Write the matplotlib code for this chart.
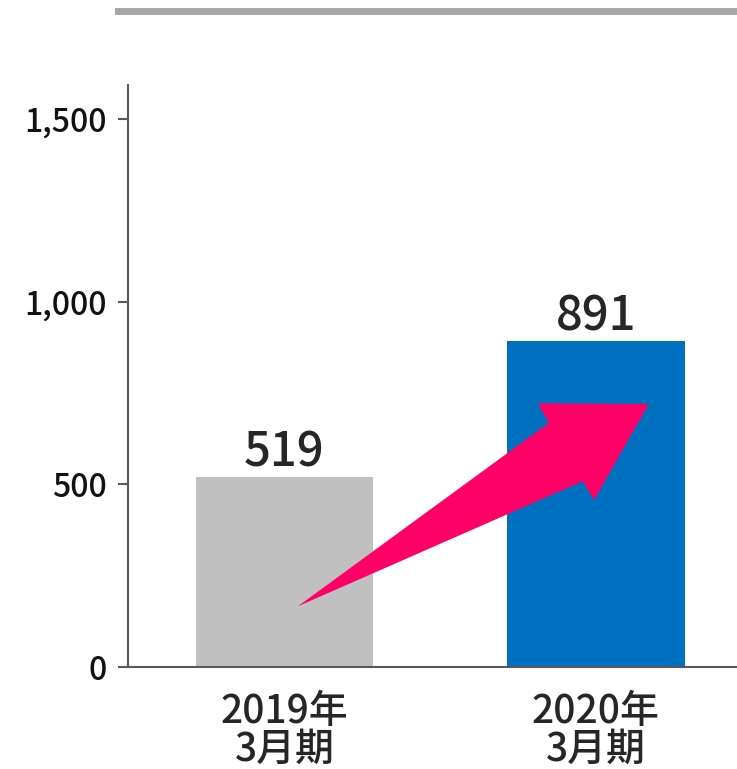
import matplotlib
matplotlib.use('Agg')
import matplotlib.pyplot as plt
from matplotlib.patches import Polygon
from matplotlib.lines import Line2D
import numpy as np

plt.rcParams['font.family'] = ['Noto Sans CJK JP', 'DejaVu Sans']

# datos
periodos = ['2019年\n3月期', '2020年\n3月期']
valores = [519, 891]
colores = ['#c0c0c0', '#0070c0']
yticks = [0, 500, 1000, 1500]
ytick_labels = ['0', '500', '1,000', '1,500']

fig = plt.figure(figsize=(7.37, 7.69), dpi=100)
ax = fig.add_axes([0.1737, 0.1326, 0.8263, 0.7569])

x = np.arange(len(valores))
ax.bar(x, valores, width=0.57, color=colores, zorder=2)

for xi, v in zip(x, valores):
    ax.text(xi, v + 1, str(v), ha='center', va='bottom', fontsize=34,
            fontweight='medium', color='#262626')

# flecha de crecimiento (de la barra 2019 a la 2020)
x0, x1 = x[0], x[1]
flecha = [(x0 + 0.043, valores[0] * 0.32),
          (x1 - 0.151, valores[1] * 0.75),
          (x1 - 0.186, valores[1] * 0.81),
          (x1 + 0.170, valores[1] * 0.808),
          (x1 - 0.006, valores[1] * 0.513),
          (x1 - 0.042, valores[1] * 0.571)]
ax.add_patch(Polygon(flecha, closed=True, facecolor='#ff0066', edgecolor='none', zorder=3))

ax.set_xlim(-0.502, 1.453)
ax.set_ylim(0, 1593)
ax.set_yticks(yticks)
ax.set_yticklabels(ytick_labels, fontweight='medium')
ax.set_xticks(x)
ax.set_xticklabels(periodos, fontsize=28, color='#262626', fontweight='medium', linespacing=0.92)
ax.tick_params(axis='x', length=0, pad=18)
ax.tick_params(axis='y', labelsize=23, length=7, width=1.5, color='#595959', pad=8, labelcolor='#111111')

for s in ['top', 'right']:
    ax.spines[s].set_visible(False)
for s in ['left', 'bottom']:
    ax.spines[s].set_color('#595959')
    ax.spines[s].set_linewidth(1.5)

# linea gris superior
fig.add_artist(Line2D([118 / 737, 1.0], [1 - 11 / 769, 1 - 11 / 769], color='#a6a6a6', linewidth=5, transform=fig.transFigure))

fig.savefig('out.png', dpi=100)
